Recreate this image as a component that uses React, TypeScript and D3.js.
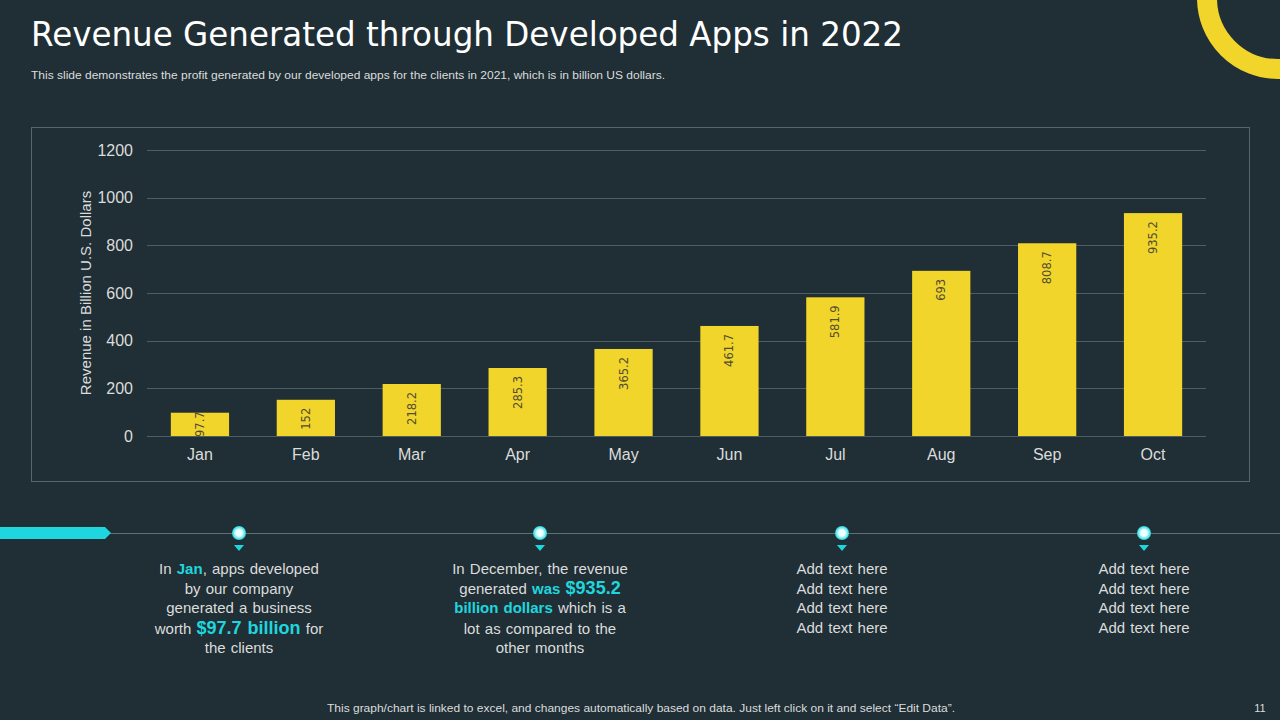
import { useEffect, useRef } from 'react';
import * as d3 from 'd3';

// Monthly revenue (billion USD)
const months = ['Jan', 'Feb', 'Mar', 'Apr', 'May', 'Jun', 'Jul', 'Aug', 'Sep', 'Oct'];
const revenue = [97.7, 152, 218.2, 285.3, 365.2, 461.7, 581.9, 693, 808.7, 935.2];
const yTicks = [0, 200, 400, 600, 800, 1000, 1200];

// Text blocks under the timeline
type Run = { t: string; hl?: boolean; big?: boolean };
const notes: Run[][][] = [
  [
    [{ t: 'In ' }, { t: 'Jan', hl: true }, { t: ', apps developed' }],
    [{ t: 'by our company' }],
    [{ t: 'generated a business' }],
    [{ t: 'worth ' }, { t: '$97.7 billion', hl: true, big: true }, { t: ' for' }],
    [{ t: 'the clients' }],
  ],
  [
    [{ t: 'In December, the revenue' }],
    [{ t: 'generated ' }, { t: 'was ', hl: true }, { t: '$935.2', hl: true, big: true }],
    [{ t: 'billion dollars', hl: true }, { t: ' which is a' }],
    [{ t: 'lot as compared to the' }],
    [{ t: 'other months' }],
  ],
  [[{ t: 'Add text here' }], [{ t: 'Add text here' }], [{ t: 'Add text here' }], [{ t: 'Add text here' }]],
  [[{ t: 'Add text here' }], [{ t: 'Add text here' }], [{ t: 'Add text here' }], [{ t: 'Add text here' }]],
];
const noteX = [239, 540, 842, 1144];

const BG = '#1f2f35';
const YELLOW = '#f2d52a';
const CYAN = '#1fd6de';
const TEXT = '#dcdcdc';
const FONT = '"Liberation Sans", Arial, sans-serif';

const App = () => {
  const ref = useRef<SVGSVGElement | null>(null);

  useEffect(() => {
    if (!ref.current) return;
    const svg = d3.select(ref.current);
    svg.selectAll('*').remove();
    const W = 1280;
    const H = 720;

    svg.append('rect').attr('width', W).attr('height', H).attr('fill', BG);

    // decorative ring, top right
    svg.append('circle')
      .attr('cx', 1278).attr('cy', -2).attr('r', 71)
      .attr('fill', 'none').attr('stroke', YELLOW).attr('stroke-width', 20);

    // title + subtitle
    svg.append('text')
      .attr('x', 31).attr('y', 46)
      .attr('fill', '#ffffff')
      .style('font-family', '"DejaVu Sans", Verdana, sans-serif')
      .style('font-size', '33px')
      .attr('textLength', 872).attr('lengthAdjust', 'spacingAndGlyphs')
      .text('Revenue Generated through Developed Apps in 2022');
    svg.append('text')
      .attr('x', 31).attr('y', 79)
      .attr('fill', TEXT)
      .style('font-family', FONT).style('font-size', '11px')
      .attr('textLength', 634).attr('lengthAdjust', 'spacingAndGlyphs')
      .text('This slide demonstrates the profit generated by our developed apps for the clients in 2021, which is in billion US dollars.');

    // chart frame
    svg.append('rect')
      .attr('x', 31.5).attr('y', 127.5).attr('width', 1218).attr('height', 354)
      .attr('fill', 'none').attr('stroke', '#56666b').attr('stroke-width', 1);

    const plot = { left: 147, right: 1206, top: 150, bottom: 436 };
    const x = d3.scaleBand<string>().domain(months).range([plot.left, plot.right]).paddingInner(0.45).paddingOuter(0.225);
    const y = d3.scaleLinear().domain([0, 1200]).range([plot.bottom, plot.top]);

    // gridlines
    svg.append('g')
      .selectAll('line')
      .data(yTicks)
      .join('line')
      .attr('x1', plot.left).attr('x2', plot.right)
      .attr('y1', d => Math.round(y(d)) + 0.5).attr('y2', d => Math.round(y(d)) + 0.5)
      .attr('stroke', '#4d5d61').attr('stroke-width', 1);

    // y axis
    const yAxis = svg.append('g')
      .attr('transform', `translate(${plot.left},0)`)
      .call(d3.axisLeft(y).tickValues(yTicks).tickSize(0).tickPadding(14).tickFormat(d3.format('d')));
    yAxis.select('.domain').remove();
    yAxis.selectAll('text')
      .attr('fill', TEXT).style('font-family', FONT).style('font-size', '16px');

    // x axis
    const xAxis = svg.append('g')
      .attr('transform', `translate(0,${plot.bottom})`)
      .call(d3.axisBottom(x).tickSize(0).tickPadding(13));
    xAxis.select('.domain').remove();
    xAxis.selectAll('text')
      .attr('fill', TEXT).style('font-family', FONT).style('font-size', '16px');

    // y axis title
    svg.append('text')
      .attr('transform', `translate(91,${(plot.top + plot.bottom) / 2}) rotate(-90)`)
      .attr('text-anchor', 'middle')
      .attr('fill', TEXT)
      .style('font-family', FONT).style('font-size', '15px')
      .text('Revenue in Billion U.S. Dollars');

    // bars with rotated value labels clipped to each bar
    const defs = svg.append('defs');
    const bars = svg.append('g');
    revenue.forEach((v, i) => {
      const bx = x(months[i]) || 0;
      const by = y(v);
      const bh = plot.bottom - by;
      const bw = x.bandwidth();
      defs.append('clipPath').attr('id', `bar-clip-${i}`)
        .append('rect').attr('x', bx).attr('y', by).attr('width', bw).attr('height', bh);
      bars.append('rect')
        .attr('x', bx).attr('y', by).attr('width', bw).attr('height', bh)
        .attr('fill', YELLOW);
      const label = String(v);
      const fits = bh > label.length * 7 + 12;
      const cx = bx + bw / 2 + 4;
      // the clip sits on an untransformed group so its rect stays in page space
      bars.append('g')
        .attr('clip-path', `url(#bar-clip-${i})`)
        .append('text')
        .attr('transform', fits
          ? `translate(${cx},${by + 8}) rotate(-90)`
          : `translate(${cx},${plot.bottom + 1}) rotate(-90)`)
        .attr('text-anchor', fits ? 'end' : 'start')
        .attr('fill', '#4f4c35')
        .style('font-family', '"DejaVu Sans", sans-serif').style('font-size', '11.5px')
        .text(label);
    });

    // timeline
    const tl = 533;
    svg.append('line')
      .attr('x1', 105).attr('x2', W).attr('y1', tl + 0.5).attr('y2', tl + 0.5)
      .attr('stroke', '#5f6f73').attr('stroke-width', 1);
    svg.append('path')
      .attr('d', `M0,${tl - 6} L105,${tl - 6} L111,${tl} L105,${tl + 6} L0,${tl + 6} Z`)
      .attr('fill', CYAN);

    const glow = defs.append('radialGradient').attr('id', 'pin-glow');
    glow.append('stop').attr('offset', '0%').attr('stop-color', '#ffffff');
    glow.append('stop').attr('offset', '45%').attr('stop-color', '#e6ffff');
    glow.append('stop').attr('offset', '100%').attr('stop-color', CYAN);

    noteX.forEach(px => {
      svg.append('circle').attr('cx', px).attr('cy', tl).attr('r', 7).attr('fill', 'url(#pin-glow)');
      svg.append('path')
        .attr('d', `M${px - 5},${tl + 12} L${px + 5},${tl + 12} L${px},${tl + 18} Z`)
        .attr('fill', CYAN);
    });

    // note paragraphs
    notes.forEach((lines, ni) => {
      const g = svg.append('g');
      lines.forEach((runs, li) => {
        const t = g.append('text')
          .attr('x', noteX[ni]).attr('y', 574 + li * 19.5 + (ni < 2 && li >= 3 ? 1 : 0))
          .attr('text-anchor', 'middle')
          .style('font-family', FONT).style('font-size', '15px')
          .style('word-spacing', '1px');
        runs.forEach(r => {
          t.append('tspan')
            .attr('fill', r.hl ? CYAN : TEXT)
            .style('font-weight', r.hl ? 'bold' : 'normal')
            .style('font-size', r.big ? '18px' : '15px')
            .text(r.t);
        });
      });
    });

    // footer
    svg.append('text')
      .attr('x', 641).attr('y', 712)
      .attr('text-anchor', 'middle')
      .attr('fill', TEXT)
      .style('font-family', FONT).style('font-size', '11px')
      .attr('textLength', 628).attr('lengthAdjust', 'spacingAndGlyphs')
      .text('This graph/chart is linked to excel, and changes automatically based on data. Just left click on it and select \u201cEdit Data\u201d.');
    svg.append('text')
      .attr('x', 1260).attr('y', 712)
      .attr('text-anchor', 'middle')
      .attr('fill', TEXT)
      .style('font-family', FONT).style('font-size', '11px')
      .text('11');

    return () => {
      svg.selectAll('*').remove();
    };
  }, []);

  return (
    <svg
      ref={ref}
      width={1280}
      height={720}
      style={{ position: 'absolute', left: 0, top: 0, display: 'block' }}
    />
  );
};

export default App;
